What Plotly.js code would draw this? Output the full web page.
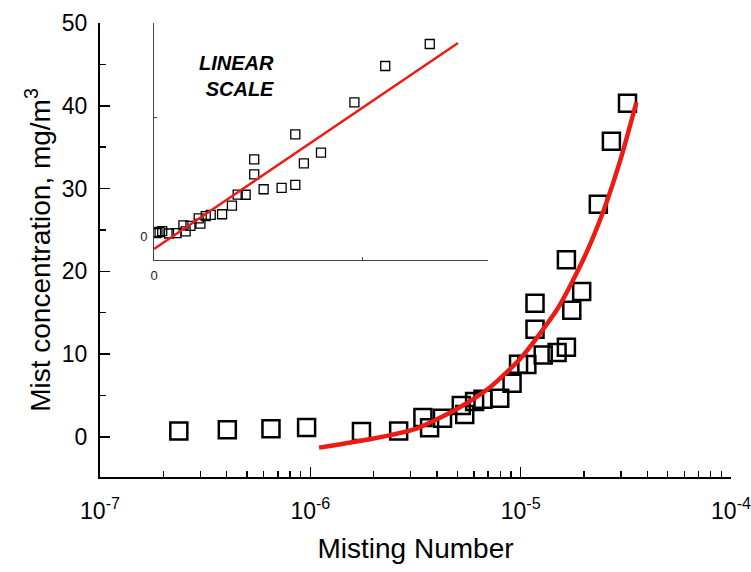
<!DOCTYPE html>
<html>
<head>
<meta charset="utf-8">
<script src="https://cdn.plot.ly/plotly-3.0.1.min.js"></script>
<style>html,body{margin:0;padding:0;background:#fff;}#chart{width:751px;height:572px;}</style>
</head>
<body>
<div id="chart"></div>
<script>
// Measured data: Misting Number vs mist concentration (mg/m^3)
const mistingNumber = [2.37e-7, 4.03e-7, 6.5e-7, 9.6e-7, 1.75e-6, 2.63e-6, 3.43e-6, 3.69e-6, 4.25e-6, 5.22e-6,
  5.42e-6, 6.04e-6, 6.62e-6, 7.95e-6, 9.1e-6, 9.77e-6, 1.07e-5, 1.17e-5, 1.17e-5, 1.28e-5,
  1.49e-5, 1.65e-5, 1.75e-5, 1.95e-5, 1.65e-5, 2.34e-5, 2.7e-5, 3.22e-5];
const concentration = [0.72, 0.85, 0.97, 1.12, 0.64, 0.72, 2.33, 1.1, 2.26, 3.8,
  2.7, 4.26, 4.55, 4.67, 6.49, 8.78, 8.75, 13.0, 16.15, 9.9,
  10.2, 10.83, 15.3, 17.55, 21.4, 28.1, 35.7, 40.3];

// Fit curve (main, log axis)
const fitX = [1.1e-6, 2e-6, 3.2e-6, 5e-6, 7e-6, 1e-5, 1.5e-5, 2e-5, 2.5e-5, 3e-5, 3.55e-5];
const fitY = [-1.3, -0.2, 1.0, 3.4, 5.8, 9.5, 15.5, 21.6, 27.6, 33.7, 40.4];

// Fit line in the linear inset
const insetFitX = [0, 3.55e-5];
const insetFitY = [-2.6, 40.5];

// Tick labels
const xTickVals = [1e-7, 1e-6, 1e-5, 1e-4];
const xTickText = ['10<sup>-7</sup>', '10<sup>-6</sup>', '10<sup>-5</sup>', '10<sup>-4</sup>'];
const yTickVals = [0, 10, 20, 30, 40, 50];
const yMinorVals = [5, 15, 25, 35, 45];
const insetXTickVals = [0];
const insetXTickText = ['0'];
const insetXMinorVals = [2.44e-5];
const insetYTickVals = [0];
const insetYTickText = ['0'];
const insetYMinorVals = [25];

const xMinorVals = [];
for (let d = -7; d <= -5; d++) {
  for (let m = 2; m <= 9; m++) xMinorVals.push(m * Math.pow(10, d));
}

const RED = 'rgb(236,28,20)';
const FONT = 'Liberation Sans, Arial, sans-serif';

const traces = [
  {
    x: mistingNumber, y: concentration, xaxis: 'x', yaxis: 'y',
    type: 'scatter', mode: 'markers',
    marker: {symbol: 'square-open', size: 17, color: 'black', line: {width: 2.5, color: 'black'}},
    hoverinfo: 'skip', showlegend: false
  },
  {
    x: fitX, y: fitY, xaxis: 'x', yaxis: 'y',
    type: 'scatter', mode: 'lines',
    line: {color: RED, width: 4.5, shape: 'spline', smoothing: 0.6},
    hoverinfo: 'skip', showlegend: false
  },
  {
    x: mistingNumber, y: concentration, xaxis: 'x2', yaxis: 'y2',
    type: 'scatter', mode: 'markers',
    marker: {symbol: 'square-open', size: 9, color: 'black', line: {width: 1.3, color: 'black'}},
    hoverinfo: 'skip', showlegend: false
  },
  {
    x: insetFitX, y: insetFitY, xaxis: 'x2', yaxis: 'y2',
    type: 'scatter', mode: 'lines',
    line: {color: RED, width: 2.5},
    hoverinfo: 'skip', showlegend: false
  }
];

const layout = {
  width: 751, height: 572,
  margin: {l: 100, r: 20, t: 23, b: 95, pad: 0},
  paper_bgcolor: 'white', plot_bgcolor: 'white',
  font: {family: FONT, color: 'black', size: 22},
  showlegend: false,
  xaxis: {
    type: 'log', range: [-7, -4], domain: [0, 1],
    showline: true, linecolor: 'black', linewidth: 2,
    showgrid: false, zeroline: false,
    tickmode: 'array', tickvals: xTickVals, ticktext: xTickText,
    ticks: 'inside', ticklen: 10, tickwidth: 1.5, tickcolor: 'black',
    minor: {tickmode: 'array', tickvals: xMinorVals, ticks: 'inside', ticklen: 6, tickwidth: 1.5, tickcolor: 'black', showgrid: false},
    tickfont: {family: FONT, size: 23, color: 'black'},
    ticklabelstandoff: 12,
    title: {text: 'Misting Number', font: {family: FONT, size: 28, color: 'black'}, standoff: 16}
  },
  yaxis: {
    range: [-4.85, 50], domain: [0, 1],
    showline: true, linecolor: 'black', linewidth: 2,
    showgrid: false, zeroline: false,
    tickmode: 'array', tickvals: yTickVals,
    ticks: 'inside', ticklen: 10, tickwidth: 1.5, tickcolor: 'black',
    minor: {tickmode: 'array', tickvals: yMinorVals, ticks: 'inside', ticklen: 6, tickwidth: 1.5, tickcolor: 'black', showgrid: false},
    tickfont: {family: FONT, size: 23, color: 'black'},
    ticklabelstandoff: 6,
    title: {text: 'Mist concentration, mg/m<sup>3</sup>', font: {family: FONT, size: 28, color: 'black'}, standoff: 3}
  },
  xaxis2: {
    anchor: 'y2', domain: [0.0856, 0.6149], range: [0, 3.9e-5],
    showline: true, linecolor: '#444', linewidth: 1,
    showgrid: false, zeroline: false,
    tickmode: 'array', tickvals: insetXTickVals, ticktext: insetXTickText,
    ticks: '', 
    minor: {tickmode: 'array', tickvals: insetXMinorVals, ticks: 'inside', ticklen: 3, tickwidth: 1, tickcolor: '#444', showgrid: false},
    tickfont: {family: FONT, size: 13, color: '#222'},
    ticklabelstandoff: 3
  },
  yaxis2: {
    anchor: 'x2', domain: [0.478, 1.0], range: [-4.9, 44.7],
    showline: true, linecolor: '#444', linewidth: 1,
    showgrid: false, zeroline: false,
    tickmode: 'array', tickvals: insetYTickVals, ticktext: insetYTickText,
    ticks: '',
    minor: {tickmode: 'array', tickvals: insetYMinorVals, ticks: 'inside', ticklen: 3, tickwidth: 1, tickcolor: '#444', showgrid: false},
    tickfont: {family: FONT, size: 13, color: '#222'},
    ticklabelstandoff: 3
  },
  annotations: [
    {
      text: '<b><i>LINEAR<br>SCALE</i></b>',
      xref: 'paper', yref: 'paper', x: 0.2797, y: 0.883,
      xanchor: 'right', yanchor: 'middle', align: 'right',
      showarrow: false,
      font: {family: FONT, size: 20, color: 'black'}
    }
  ]
};

Plotly.newPlot('chart', traces, layout, {staticPlot: true, displayModeBar: false});
</script>
</body>
</html>
